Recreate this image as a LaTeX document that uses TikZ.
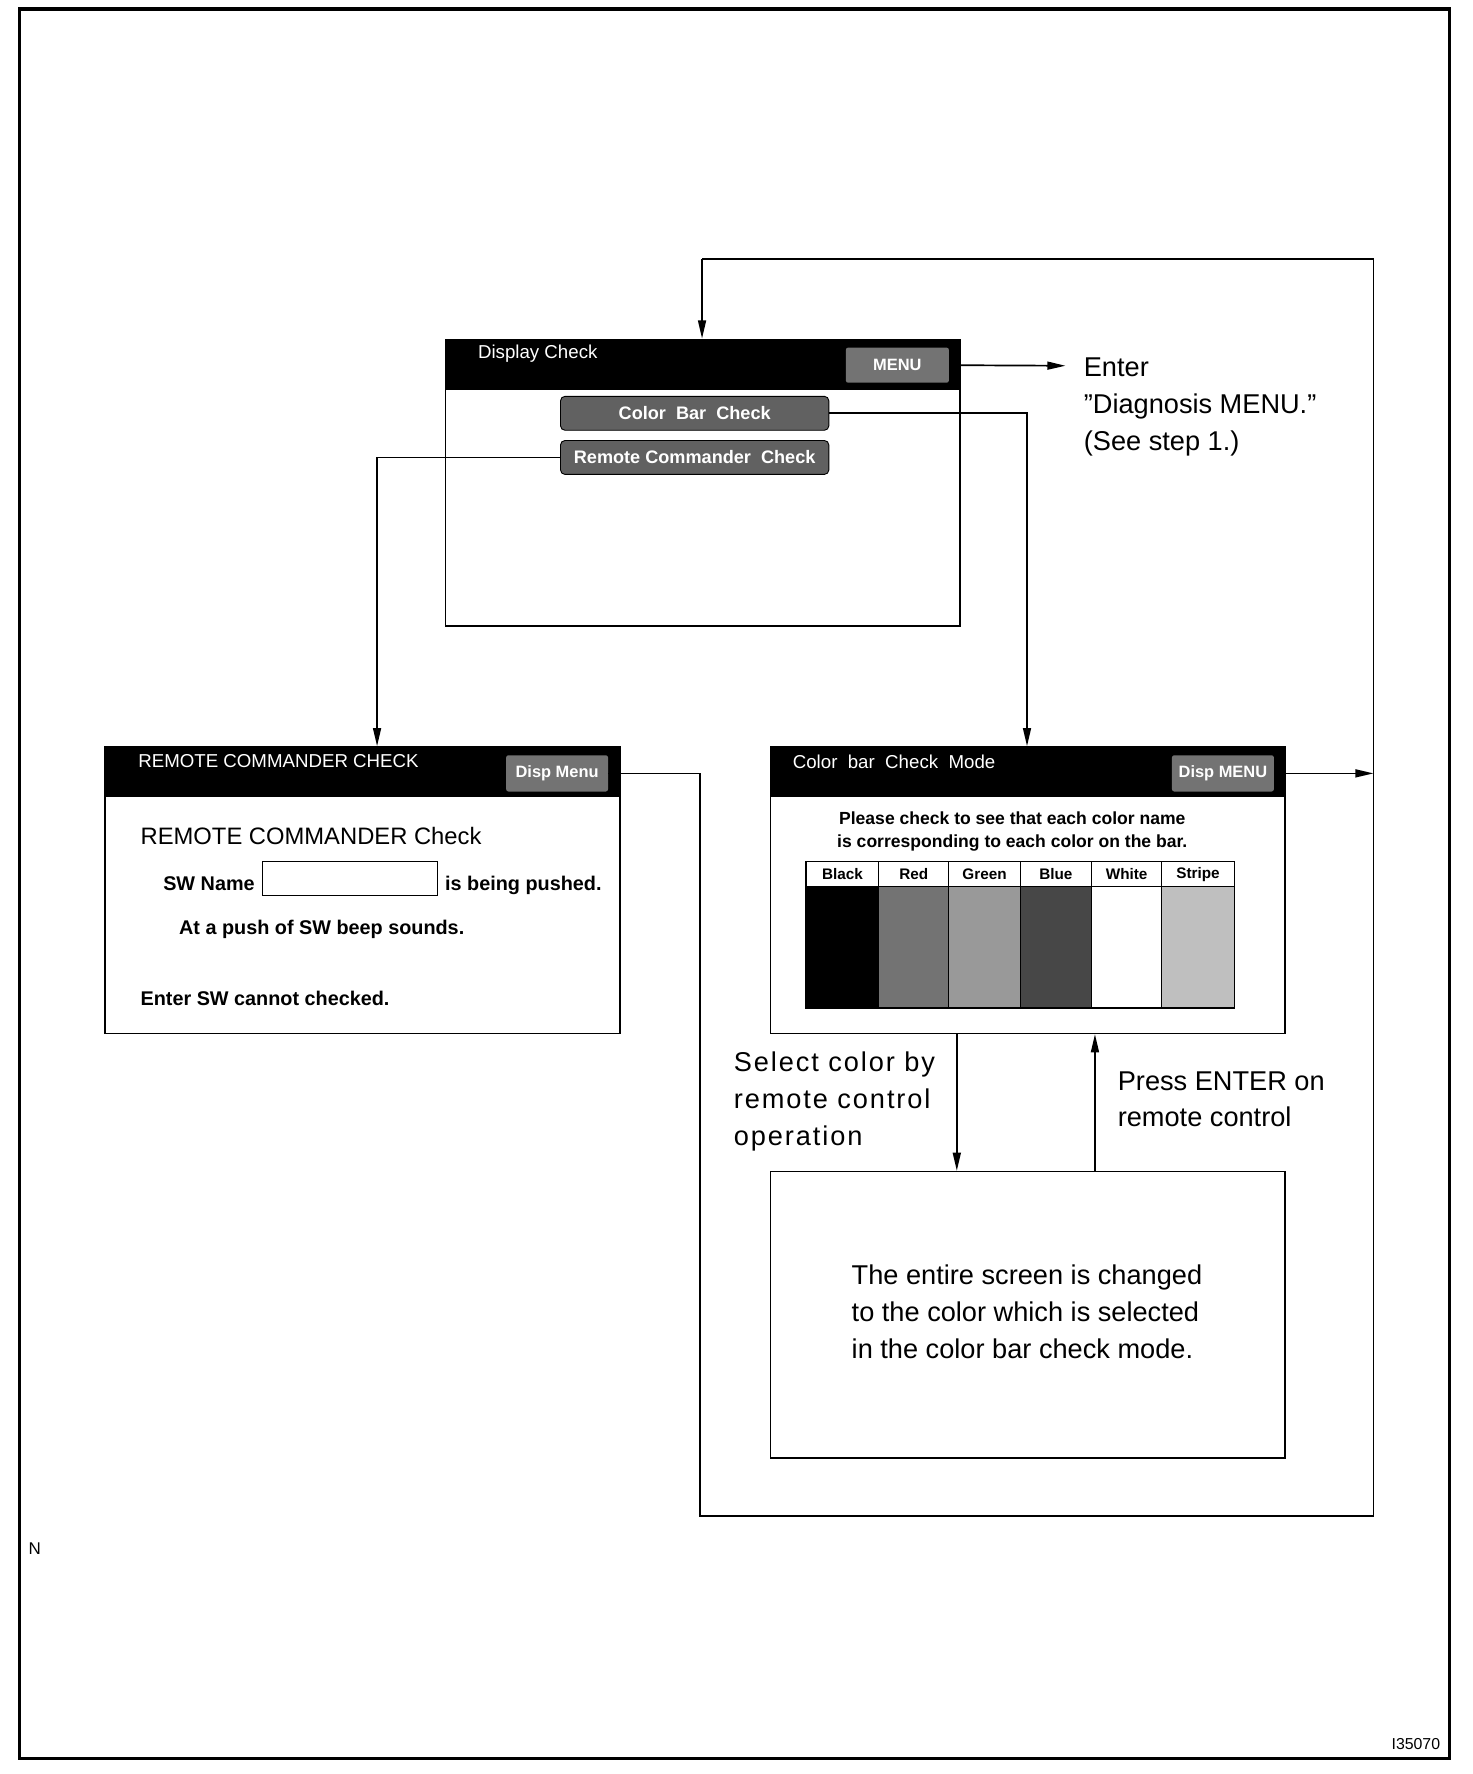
\documentclass[tikz,border=0pt]{standalone}
\usepackage{fontspec}
\setmainfont{Liberation Sans}
\usetikzlibrary{arrows.meta}
\begin{document}
\begin{tikzpicture}[x=1pt,y=-1pt,
  box/.style={draw, line width=1.3pt, fill=white, anchor=north west, inner sep=0pt},
  conn/.style={line width=1.5pt},
  arr/.style={conn, -{Triangle[length=16pt,width=7pt]}},
  hdrtext/.style={text=white, anchor=base west, inner sep=0pt, font=\fontsize{16.5}{18}\selectfont},
  mbtn/.style={fill=black!55, text=white, inner sep=0pt, rounded corners=2pt, font=\fontsize{14.5}{16}\selectfont\bfseries},
  btn/.style={fill=black!62, draw=black, line width=0.8pt, text=white, inner sep=0pt, rounded corners=4pt, minimum width=237pt, minimum height=30pt, font=\fontsize{16}{18}\selectfont\bfseries},
  bigtext/.style={inner sep=0pt, anchor=north west, align=left, font=\fontsize{24}{32.5}\selectfont},
  smtext/.style={inner sep=0pt, anchor=base west, font=\fontsize{17.5}{20}\selectfont\bfseries},
  tabh/.style={inner sep=0pt, font=\fontsize{13.5}{15}\selectfont\bfseries}
]
\useasboundingbox (0,0) rectangle (1300,1566.7);
\draw[line width=2.8pt] (17,8) rectangle (1280,1553);

% ---------------- Display Check ----------------
\node[box, minimum width=454pt, minimum height=253pt] (dc) at (393,299) {};
\fill[black] (dc.north west) rectangle ++(454,45);
\node[hdrtext] (dctitle) at (422,317) {Display Check};
\node[mbtn, minimum width=91pt, minimum height=31pt] (menu) at (792.5,322.5) {MENU};
\node[btn] (cbc) at (613.5,365) {Color\ \ Bar\ \ Check};
\node[btn] (rcc) at (613.5,404) {Remote Commander\ \ Check};

\coordinate (menuend) at (941,323);
\draw[arr] (menu.east) -- (menuend);
\node[bigtext] (enter) at (957,316) {Enter\\”Diagnosis MENU.”\\(See step 1.)};

% ---------------- Remote commander check ----------------
\node[box, minimum width=455pt, minimum height=253pt] (rc) at (92,659) {};
\fill[black] (rc.north west) rectangle ++(455,45);
\node[hdrtext] (rctitle) at (122,678) {REMOTE COMMANDER CHECK};
\node[mbtn, minimum width=90pt, minimum height=32pt] (rdm) at (492,683) {Disp Menu};
\node[inner sep=0pt, anchor=base west, font=\fontsize{21}{24}\selectfont] (rcsub) at (124,746) {REMOTE COMMANDER Check};
\node[smtext] (swname) at (144,786) {SW Name};
\node[draw, line width=1pt, minimum width=155pt, minimum height=30pt, anchor=north west, inner sep=0pt] (swbox) at (231,760) {};
\node[smtext] (pushed) at (393,786) {is being pushed.};
\node[smtext] (beep) at (158,825) {At a push of SW beep sounds.};
\node[smtext] (cannot) at (124,888) {Enter SW cannot checked.};

% ---------------- Color bar check mode ----------------
\node[box, minimum width=454pt, minimum height=253pt] (cbm) at (680,659) {};
\fill[black] (cbm.north west) rectangle ++(454,45);
\node[hdrtext] (cbmtitle) at (700,679) {Color\ \ bar\ \ Check\ \ Mode};
\node[mbtn, minimum width=90pt, minimum height=32pt] (cdm) at (1080,683) {Disp MENU};
\node[inner sep=0pt, anchor=north, align=center, font=\fontsize{15.5}{20}\selectfont\bfseries] (please) at (894,717) {Please check to see that each color name\\is corresponding to each color on the bar.};

\foreach \xa/\xb/\nm/\fl in {712/776/Black/black, 776/838/Red/black!55, 838/901/Green/black!40, 901/964/Blue/black!72, 964/1026/White/white, 1026/1090/Stripe/black!25}{
  \fill[fill=\fl] (\xa,783) rectangle (\xb,890);
  \draw[line width=1pt] (\xa,761) -- (\xa,890);
  \node[tabh] at ({(\xa+\xb)/2},772) {\nm};
}
\draw[line width=1.3pt] (712,761) rectangle (1090,890);
\draw[line width=1pt] (712,783) -- (1090,783);

% ---------------- result screen ----------------
\node[box, minimum width=454pt, minimum height=253pt] (res) at (680,1034) {};
\node[bigtext] (restext) at (752,1117) {The entire screen is changed\\to the color which is selected\\in the color bar check mode.};

\coordinate (sdown) at (845,0);
\coordinate (sup) at (967,0);
\draw[arr] (cbm.south -| sdown) -- (res.north -| sdown);
\draw[arr] (res.north -| sup) -- (cbm.south -| sup);
\node[bigtext, font=\fontsize{24}{32.5}\selectfont\addfontfeature{LetterSpace=7}] (selt) at (648,929) {Select color by\\remote control\\operation};
\node[bigtext] (presst) at (987,946) {Press ENTER on\\remote control};

% ---------------- connectors ----------------
\coordinate (rcin) at (333,659);
\draw[arr] (rcc.west) -| (rcin);
\coordinate (cbin) at (907,659);
\draw[arr] (cbc.east) -| (cbin);

\coordinate (t1) at (620,229);
\coordinate (t2) at (1213,229);
\coordinate (b1) at (1213,1339);
\coordinate (b2) at (618,1339);
\coordinate (mx) at (618,0);
\draw[conn] (rdm.east) -- (rdm.east -| mx) -- (b2) -- (b1) -- (t2) -- (t1);
\draw[arr] (t1) -- (t1 |- dc.north);
\draw[arr] (cdm.east) -- (cdm.east -| b1);

% ---------------- marks ----------------
\node[inner sep=0pt, anchor=west, font=\fontsize{15}{16}\selectfont] (nmark) at (25,1368) {N};
\node[inner sep=0pt, anchor=east, font=\fontsize{14}{16}\selectfont] (code) at (1272,1540) {I35070};
\end{tikzpicture}
\end{document}
